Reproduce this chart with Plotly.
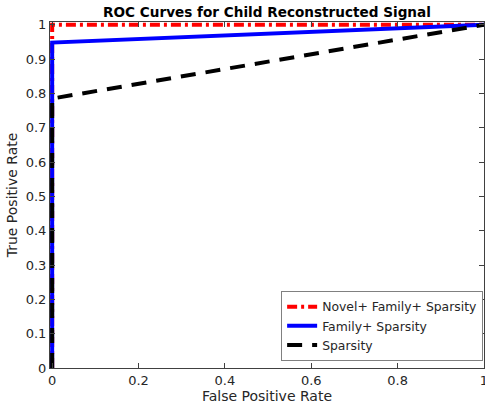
import plotly.graph_objects as go

# Data
fpr_novel = [0, 0, 1]
tpr_novel = [0, 1, 1]
fpr_family = [0, 0, 1]
tpr_family = [0, 0.948, 1]
fpr_sparsity = [0, 0, 1]
tpr_sparsity = [0, 0.785, 1]

names = ["Novel+ Family+ Sparsity", "Family+ Sparsity", "Sparsity"]
x_ticks = [0, 0.2, 0.4, 0.6, 0.8, 1]
x_tick_labels = ["0", "0.2", "0.4", "0.6", "0.8", "1"]
y_ticks = [0, 0.1, 0.2, 0.3, 0.4, 0.5, 0.6, 0.7, 0.8, 0.9, 1]
y_tick_labels = ["0", "0.1", "0.2", "0.3", "0.4", "0.5", "0.6", "0.7", "0.8", "0.9", "1"]

FONT = "DejaVu Sans"
AX = "#404040"

fig = go.Figure()
fig.add_trace(go.Scatter(x=fpr_novel, y=tpr_novel, mode="lines", name=names[0],
                         line=dict(color="#ff0000", width=4, dash="10px,4px,3px,4px")))
fig.add_trace(go.Scatter(x=fpr_family, y=tpr_family, mode="lines", name=names[1],
                         line=dict(color="#0000ff", width=4)))
fig.add_trace(go.Scatter(x=fpr_sparsity, y=tpr_sparsity, mode="lines", name=names[2],
                         line=dict(color="#000000", width=4, dash="15px,10px")))

axis_common = dict(showgrid=False, zeroline=False, showline=True, linecolor=AX, linewidth=1,
                   ticks="inside", ticklen=5, tickcolor=AX, mirror="ticks",
                   ticklabeloverflow="allow", automargin=False,
                   tickfont=dict(family=FONT, size=13, color="#262626"))

fig.update_layout(
    width=485, height=404,
    margin=dict(l=50, r=1, t=22, b=36, autoexpand=False),
    paper_bgcolor="white", plot_bgcolor="white",
    title=dict(text="<b>ROC Curves for Child Reconstructed Signal</b>",
               font=dict(family=FONT, size=13.6, color="black"),
               x=0.5, xref="paper", xanchor="center", y=1 - 12 / 404, yanchor="middle"),
    xaxis=dict(range=[-0.005, 1.0], tickvals=x_ticks, ticktext=x_tick_labels,
               title=dict(text="False Positive Rate", font=dict(family=FONT, size=14, color="#262626"),
                          standoff=3),
               **axis_common),
    yaxis=dict(range=[0, 1.008], tickvals=y_ticks, ticktext=y_tick_labels,
               title=dict(text="True Positive Rate", font=dict(family=FONT, size=14, color="#262626"),
                          standoff=4),
               **axis_common),
    legend=dict(x=0.998, xanchor="right", y=0.02, yanchor="bottom",
                bgcolor="white", bordercolor="#808080", borderwidth=1,
                font=dict(family=FONT, size=12.4, color="#262626"),
                tracegroupgap=0, itemwidth=30),
    showlegend=True,
)

fig.write_html("out.html")
